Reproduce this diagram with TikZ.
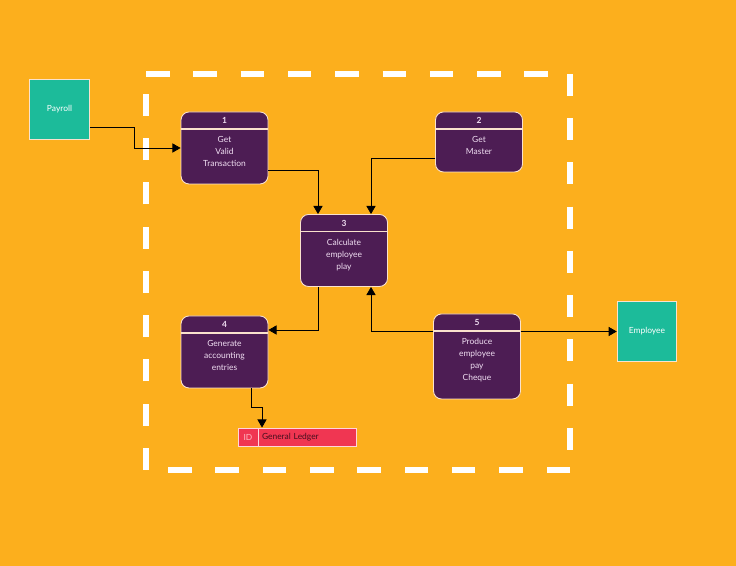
\documentclass[tikz,border=0pt]{standalone}
\usepackage{fontspec}
\setmainfont{Lato}
\usepackage{tikz}
\usetikzlibrary{arrows.meta,positioning,calc}
\usepackage{xcolor}
\definecolor{dforange}{RGB}{252,175,29}
\definecolor{dfteal}{RGB}{28,187,154}
\definecolor{dfpurple}{RGB}{77,29,84}
\definecolor{dfcream}{RGB}{250,226,205}
\definecolor{dflilac}{RGB}{240,222,242}
\definecolor{dfred}{RGB}{240,54,82}
\definecolor{dfpink}{RGB}{255,185,195}
\definecolor{dfdark}{RGB}{70,15,30}
\newcommand{\dfsmall}{\fontsize{4.8}{6.8}\selectfont}
\tikzstyle{flow} = [line width=0.45pt,-{Triangle[width=5.2pt,length=4.6pt]},color=black]
\tikzstyle{boundary} = [white, line width=0.11cm, line cap=butt]
\tikzstyle{procbox} = [rectangle, rounded corners=0.16cm, minimum width=1.74cm, minimum height=1.44cm, draw=dfcream, fill=dfpurple, line width=0.5pt,
  path picture={\draw[dfcream, line width=0.6pt] ([yshift=-0.34cm]path picture bounding box.north west) -- ([yshift=-0.34cm]path picture bounding box.north east);}]
\tikzstyle{procnum} = [inner sep=0pt, text=dflilac, font=\dfsmall\bfseries]
\tikzstyle{proctxt} = [inner sep=0pt, anchor=north, align=center, text=dflilac, font=\dfsmall]
\tikzstyle{extbox} = [rectangle, minimum width=1.19cm, minimum height=1.19cm, draw=dfcream, fill=dfteal, line width=0.6pt, text=white, font=\dfsmall]
\tikzstyle{ledgerbox} = [rectangle, minimum height=0.36cm, inner xsep=0.48cm, inner ysep=0pt, text width=1.4cm, align=left, draw=dfpink!60!white, fill=dfred, line width=0.5pt, text=dfdark, font=\dfsmall]
\tikzstyle{ledgerid} = [rectangle, minimum width=0.4cm, minimum height=0.36cm, inner sep=0pt, draw=dfpink!60!white, fill=dfred, line width=0.5pt, text=dfpink, font=\dfsmall]

\begin{document}
\begin{tikzpicture}
% Background
\fill[dforange] (0,0) rectangle (14.72,11.32);
\useasboundingbox (0,0) rectangle (14.72,11.32);

% System boundary
\coordinate (tl) at (2.92,9.84);
\coordinate (tr) at (11.40,9.84);
\coordinate (br) at (11.40,1.92);
\coordinate (bl) at (2.92,1.92);
\draw[boundary, dash pattern=on 0.47cm off 0.476cm] (tl) -- (tr);
\draw[boundary, dash pattern=on 0.44cm off 0.445cm] (tr) -- (br);
\draw[boundary, dash pattern=on 0.47cm off 0.476cm] (br) -- (bl);
\draw[boundary, dash pattern=on 0.44cm off 0.445cm] (bl) -- (tl);

% External entities
\node[extbox] (payroll) at (1.19,9.13) {Payroll};
\node[extbox] (employee) at (12.94,4.69) {Employee};

% Process 1
\node[procbox] (p1) at (4.49,8.36) {};
\node[procnum] (p1num) at ([yshift=-0.18cm]p1.north) {1};
\node[proctxt] (p1txt) at ([yshift=-0.49cm]p1.north) {Get\\Valid\\Transaction};

% Process 2
\node[procbox, minimum height=1.2cm] (p2) at (9.58,8.48) {};
\node[procnum] (p2num) at ([yshift=-0.18cm]p2.north) {2};
\node[proctxt] (p2txt) at ([yshift=-0.49cm]p2.north) {Get\\Master};

% Process 3
\node[procbox] (p3) at (6.88,6.31) {};
\node[procnum] (p3num) at ([yshift=-0.18cm]p3.north) {3};
\node[proctxt] (p3txt) at ([yshift=-0.49cm]p3.north) {Calculate\\employee\\play};

% Process 4
\node[procbox] (p4) at (4.49,4.28) {};
\node[procnum] (p4num) at ([yshift=-0.18cm]p4.north) {4};
\node[proctxt] (p4txt) at ([yshift=-0.49cm]p4.north) {Generate\\accounting\\entries};

% Process 5
\node[procbox, minimum height=1.7cm] (p5) at (9.54,4.19) {};
\node[procnum] (p5num) at ([yshift=-0.18cm]p5.north) {5};
\node[proctxt] (p5txt) at ([yshift=-0.49cm]p5.north) {Produce\\employee\\pay\\Cheque};

% Data store
\node[ledgerbox] (ledger) at (5.94,2.58) {General Ledger};
\node[ledgerid, anchor=west] (ledgerid) at (ledger.west) {ID};

% Connections
\draw[flow] ([yshift=-0.35cm]payroll.east) -| ([xshift=-0.92cm]p1.west) -- (p1.west);
\draw[flow] ([yshift=-0.44cm]p1.east) -| ([xshift=-0.52cm]p3.north);
\draw[flow] ([yshift=-0.32cm]p2.west) -| ([xshift=0.54cm]p3.north);
\draw[flow] ([xshift=-0.52cm]p3.south) |- ([yshift=0.44cm]p4.east);
\draw[flow] ([yshift=0.51cm]p5.west) -| ([xshift=0.54cm]p3.south);
\draw[flow] (p5.east |- employee.west) -- (employee.west);
\draw[flow] ([xshift=0.53cm]p4.south) -- ++(0,-0.38) -| ([xshift=-0.7cm]ledger.north);
\end{tikzpicture}
\end{document}
